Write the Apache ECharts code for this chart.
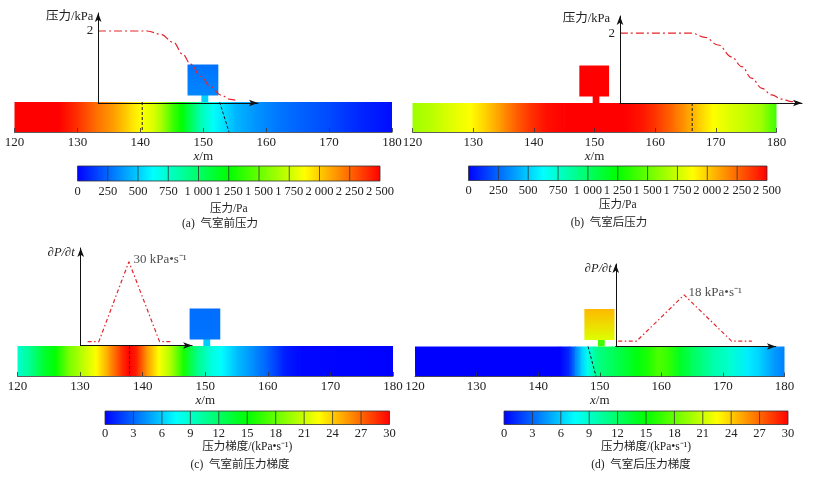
<!DOCTYPE html>
<html><head><meta charset="utf-8">
<script src="https://cdn.jsdelivr.net/npm/echarts@6/dist/echarts.min.js"></script>
<style>html,body{margin:0;padding:0;background:#fff}#c{width:821px;height:478px}</style>
</head><body><div id="c"></div>
<script>
// ------------------ DATA ------------------
const stripTicks = [120, 130, 140, 150, 160, 170, 180];
const pressureTicks = [0, 250, 500, 750, 1000, 1250, 1500, 1750, 2000, 2250, 2500];
const gradientTicks = [0, 3, 6, 9, 12, 15, 18, 21, 24, 27, 30];

// colour strip samples: position (m) and value
const stripPosA = [120,127,130,133,136,138.5,140,142,143.5,145,146.5,148,149.5,151.5,153,155,158,162,166,170,175,180];
const stripValA = [2500,2500,2380,2225,2100,1950,1875,1790,1640,1420,1250,1030,820,640,560,450,370,290,230,180,90,30];
const stripPosB = [120,123,126,129.5,132,134.5,137,139.5,142,145,155,158,160.5,163,165,167,169.5,172,175,177.5,180];
const stripValB = [1640,1700,1790,1875,1990,2125,2265,2380,2460,2500,2500,2440,2350,2230,2125,2010,1875,1800,1720,1640,1400];
const stripPosC = [120,122,124,126,128,130,132.5,134.5,136.5,137.8,139,140.5,142.5,144.5,146.5,148.5,150.5,152.5,155,157.5,160,162.5,165,180];
const stripValC = [8.9,10.8,13.4,15,18.3,20.2,22.5,25.3,28.4,30,29,25.8,22.5,20,15.6,11.3,8.9,7.5,5.6,4.2,2.8,0.9,0.2,0];
const stripPosD = [120,143.5,145,146,147,148,149,150,152,154,156,158,159.5,161,163,165,168,171,174,176,178,180];
const stripValD = [0,0,1.3,3.75,6.1,8,10.2,11.3,12.3,13.4,14.6,16,17.3,16.6,14,12.3,10.2,8.9,7,6.1,4.7,3.75];

// pressure / gradient curves [x (m), value]
const curveA = [[133.3,2],[141.1,2],[143.2,1.91],[145.3,1.68],[146.7,1.36],[148.0,1.08],[149.6,0.74],[151.2,0.45],[152.8,0.22],[154.3,0.1],[155.1,0.08]];
const curveB = [[154.2,2],[166.0,2],[168.2,1.88],[170.4,1.66],[172.6,1.32],[174.3,1.04],[175.9,0.71],[177.6,0.42],[179.2,0.23],[180.9,0.11],[182.5,0.04],[183.6,0.01]];
const curveC = [[131.2,1.4],[133.0,1.4],[137.8,30],[142.7,1.4],[144.6,1.4]];
const curveD = [[153.0,1.9],[156.0,1.9],[163.7,18],[171.4,1.9],[174.7,1.9]];
const peakLabelC = '30 kPa\u2022s\u207B\u00B9';
const peakLabelD = '18 kPa\u2022s\u207B\u00B9';

// air chamber span (m) and its values [top, bottom], neck value
const chamberX = [147.5, 152.4];
const neckX = [149.7, 150.8];
const chamberValA = [280, 330], neckValA = 520;
const chamberValB = [2500, 2500], neckValB = 2500;
const chamberValC = [3.2, 3.4], neckValC = 6;
const chamberValD = [24.6, 21.5], neckValD = 17;

// dashed wave-front markers [x at top, x at bottom]
const dashA = [[140.3,140.3],[152.6,154.1]];
const dashB = [[166.1,166.1]];
const dashC = [[137.9,137.9]];
const dashD = [[148.1,149.4]];

// ------------------ STYLE / LAYOUT ------------------
const FONT = '"Liberation Serif","Times New Roman","Noto Sans CJK SC",serif';
const TXT = '#222';
const STOPS = ['#0000ff','#00ffff','#00ff00','#ffff00','#ff0000'];
function hex2rgb(h){return [parseInt(h.slice(1,3),16),parseInt(h.slice(3,5),16),parseInt(h.slice(5,7),16)];}
function cmap(t){
  t = Math.max(0, Math.min(1, t));
  const s = t*4, i = Math.min(3, Math.floor(s)), f = s - i;
  const a = hex2rgb(STOPS[i]), b = hex2rgb(STOPS[i+1]);
  return 'rgb(' + a.map((c,k)=>Math.round(c+(b[k]-c)*f)).join(',') + ')';
}
function fmtK(v){ return v >= 1000 ? Math.floor(v/1000) + ' ' + String(v%1000).padStart(3,'0') : String(v); }

const panels = [
  {pos:stripPosA, val:stripValA, curve:curveA, smooth:true, chamber:chamberValA, neck:neckValA, dash:dashA,
   vmax:2500, ticks:pressureTicks, step:250, yName:'压力/kPa', yLabel:2, peak:null,
   strip:{l:14.5,r:392,t:102,h:30}, cv:{x0:133.3,x1:158.7,t:13,b:103,ymax:2.5,gap:-4,pad:5},
   cb:{l:77.5,r:380,t:166,h:15,m:4,gap:22}, cbName:'压力/Pa', cap:'(a)  气室前压力', capX:220, capY:224},
  {pos:stripPosB, val:stripValB, curve:curveB, smooth:true, chamber:chamberValB, neck:neckValB, dash:dashB,
   vmax:2500, ticks:pressureTicks, step:250, yName:'压力/kPa', yLabel:2, peak:null,
   strip:{l:412.5,r:776.5,t:103,h:29}, cv:{x0:154.2,x1:184.2,t:16,b:103,ymax:2.49,gap:-3,pad:10},
   cb:{l:468.5,r:767,t:166,h:14.5,m:4,gap:19}, cbName:'压力/Pa', cap:'(b)  气室后压力', capX:609, capY:223},
  {pos:stripPosC, val:stripValC, curve:curveC, smooth:false, chamber:chamberValC, neck:neckValC, dash:dashC,
   vmax:30, ticks:gradientTicks, step:3, yName:'{d|∂}{i|P}{d|/∂}{i|t}', yLabel:null, peak:peakLabelC,
   strip:{l:17.5,r:393,t:346,h:30}, cv:{x0:130.1,x1:147.9,t:248,b:345.5,ymax:34.9,gap:-5,pad:6},
   cb:{l:105,r:389.5,t:411,h:13.5,m:3,gap:16}, cbName:'压力梯度/(kPa\u2022s\u207B\u00B9)', cap:'(c)  气室前压力梯度', capX:240, capY:465},
  {pos:stripPosD, val:stripValD, curve:curveD, smooth:false, chamber:chamberValD, neck:neckValD, dash:dashD,
   vmax:30, ticks:gradientTicks, step:3, yName:'{d|∂}{i|P}{d|/∂}{i|t}', yLabel:null, peak:peakLabelD,
   strip:{l:415,r:784.5,t:346.5,h:30}, cv:{x0:152.6,x1:178.6,t:264,b:346.5,ymax:28.8,gap:-5,pad:4},
   cb:{l:504,r:788,t:411,h:13.5,m:3,gap:16}, cbName:'压力梯度/(kPa\u2022s\u207B\u00B9)', cap:'(d)  气室后压力梯度', capX:641, capY:465}
];

const grids = [], xAxes = [], yAxes = [], series = [], graphics = [];
const arrowLine = {show:true, symbol:['none','arrow'], symbolSize:[5,9], lineStyle:{color:'#111', width:1}};

panels.forEach((p, pi) => {
  const sW = p.strip.r - p.strip.l;
  // ---- strip grid ----
  const gS = grids.length;
  grids.push({left:p.strip.l, top:p.strip.t, width:sW, height:p.strip.h});
  xAxes.push({gridIndex:gS, type:'value', min:stripTicks[0], max:stripTicks[stripTicks.length-1], interval:10, z:5,
    axisLine:{show:true, lineStyle:{color:'#333', width:0.8}},
    axisTick:{show:true, inside:true, length:4, lineStyle:{color:'#333', width:0.8}},
    axisLabel:{fontFamily:FONT, fontSize:13, color:TXT, margin:4},
    splitLine:{show:false},
    name:'{i|x}/m', nameLocation:'middle', nameGap:18,
    nameTextStyle:{fontFamily:FONT, fontSize:13, color:TXT, rich:{i:{fontFamily:FONT, fontSize:13, fontStyle:'italic', color:TXT}}}});
  yAxes.push({gridIndex:gS, type:'value', min:0, max:1, show:false});

  const segs = [];
  for (let k = 0; k < p.pos.length - 1; k++) segs.push([p.pos[k], p.pos[k+1], p.val[k], p.val[k+1]]);
  const nSeg = segs.length;
  series.push({type:'custom', xAxisIndex:gS, yAxisIndex:gS, clip:false, silent:true, z:1,
    data:segs, encode:{x:[0,1]},
    renderItem:(params, api) => {
      const a = api.coord([api.value(0), 1]), b = api.coord([api.value(1), 0]);
      const extra = params.dataIndex < nSeg - 1 ? 0.7 : 0;
      return {type:'rect', shape:{x:a[0], y:a[1], width:b[0]-a[0]+extra, height:b[1]-a[1]},
        style:{fill:new echarts.graphic.LinearGradient(0,0,1,0,[
          {offset:0, color:cmap(api.value(2)/p.vmax)}, {offset:1, color:cmap(api.value(3)/p.vmax)}])}};
    }});
  // chamber
  series.push({type:'custom', xAxisIndex:gS, yAxisIndex:gS, clip:false, silent:true, z:3,
    data:[[chamberX[0], chamberX[1], neckX[0], neckX[1], p.chamber[0], p.chamber[1], p.neck]], encode:{x:[0,1]},
    renderItem:(params, api) => {
      const c0 = api.coord([api.value(0), 1]), c1 = api.coord([api.value(1), 1]);
      const n0 = api.coord([api.value(2), 1]), n1 = api.coord([api.value(3), 1]);
      const y0 = c0[1], neckH = 6.5, boxH = 31;
      return {type:'group', children:[
        {type:'rect', shape:{x:n0[0], y:y0-neckH-0.5, width:n1[0]-n0[0], height:neckH+0.5}, style:{fill:cmap(api.value(6)/p.vmax)}},
        {type:'rect', shape:{x:c0[0], y:y0-neckH-boxH, width:c1[0]-c0[0], height:boxH},
          style:{fill:new echarts.graphic.LinearGradient(0,0,0,1,[
            {offset:0, color:cmap(api.value(4)/p.vmax)}, {offset:1, color:cmap(api.value(5)/p.vmax)}])}}
      ]};
    }});
  // dashed markers
  series.push({type:'custom', xAxisIndex:gS, yAxisIndex:gS, clip:false, silent:true, z:4,
    data:p.dash, encode:{x:[0,1]},
    renderItem:(params, api) => {
      const a = api.coord([api.value(0), 1]), b = api.coord([api.value(1), 0]);
      return {type:'line', shape:{x1:a[0], y1:a[1], x2:b[0], y2:b[1]}, style:{stroke:'#1a1a1a', lineWidth:1, lineDash:[3,2]}};
    }});

  // ---- curve grid ----
  const gC = grids.length;
  const cl = p.strip.l + (p.cv.x0 - 120)/60*sW;
  const cw = (p.cv.x1 - p.cv.x0)/60*sW;
  grids.push({left:cl, top:p.cv.t, width:cw, height:p.cv.b - p.cv.t});
  xAxes.push({gridIndex:gC, type:'value', min:p.cv.x0, max:p.cv.x1, z:6,
    axisLine:arrowLine, axisTick:{show:false}, axisLabel:{show:false}, splitLine:{show:false}});
  yAxes.push({gridIndex:gC, type:'value', min:0, max:p.cv.ymax, interval:p.yLabel || p.cv.ymax, z:6,
    axisLine:arrowLine, axisTick:{show:false}, splitLine:{show:false},
    axisLabel:{show:!!p.yLabel, fontFamily:FONT, fontSize:13, color:TXT, margin:5,
      formatter:v => (p.yLabel && Math.abs(v - p.yLabel) < 1e-9) ? String(v) : ''},
    name:p.yName, nameLocation:'end', nameGap:p.cv.gap,
    nameTextStyle:{fontFamily:FONT, fontSize:12.5, color:TXT, align:'right', verticalAlign:'middle', padding:[0,p.cv.pad,0,0],
      rich:{i:{fontFamily:FONT, fontSize:12.5, fontStyle:'italic', color:TXT}, d:{fontFamily:FONT, fontSize:12.5, fontStyle:'italic', color:TXT}}}});
  series.push({type:'line', xAxisIndex:gC, yAxisIndex:gC, data:p.curve, showSymbol:false, symbol:'none',
    smooth:p.smooth ? 0.4 : false, smoothMonotone:'x', silent:true, z:4,
    lineStyle:{color:'#e3262c', width:1.2, type:p.smooth ? [8,3,2,3] : [4,2.5,1.5,2.5]}});
  if (p.peak) {
    const pk = p.curve.reduce((m, d) => d[1] > m[1] ? d : m, p.curve[0]);
    series.push({type:'scatter', xAxisIndex:gC, yAxisIndex:gC, data:[pk], symbolSize:1, silent:true,
      itemStyle:{color:'rgba(0,0,0,0)'},
      label:{show:true, position:'right', distance:4, offset:[0,-2], formatter:p.peak, fontFamily:FONT, fontSize:13, color:TXT}});
  }

  // ---- colour bar grid ----
  const gB = grids.length;
  grids.push({left:p.cb.l, top:p.cb.t, width:p.cb.r - p.cb.l, height:p.cb.h});
  xAxes.push({gridIndex:gB, type:'value', min:p.ticks[0], max:p.ticks[p.ticks.length-1], interval:p.step,
    axisLine:{show:false}, axisTick:{show:false}, splitLine:{show:false},
    axisLabel:{fontFamily:FONT, fontSize:12.5, color:TXT, margin:p.cb.m, formatter:fmtK},
    name:p.cbName, nameLocation:'middle', nameGap:p.cb.gap,
    nameTextStyle:{fontFamily:FONT, fontSize:11.5, color:TXT}});
  yAxes.push({gridIndex:gB, type:'value', min:0, max:1, show:false});
  series.push({type:'custom', xAxisIndex:gB, yAxisIndex:gB, clip:false, silent:true, z:2,
    data:[[p.ticks[0], p.ticks[p.ticks.length-1]]], encode:{x:[0,1]},
    renderItem:(params, api) => {
      const a = api.coord([api.value(0), 1]), b = api.coord([api.value(1), 0]);
      return {type:'rect', shape:{x:a[0], y:a[1], width:b[0]-a[0], height:b[1]-a[1]},
        style:{stroke:'#333', lineWidth:0.8, fill:new echarts.graphic.LinearGradient(0,0,1,0,
          STOPS.map((c,k)=>({offset:k/(STOPS.length-1), color:c})))}};
    }});
  series.push({type:'custom', xAxisIndex:gB, yAxisIndex:gB, clip:false, silent:true, z:3,
    data:p.ticks.slice(1, -1).map(v => [v]), encode:{x:0},
    renderItem:(params, api) => {
      const a = api.coord([api.value(0), 1]), b = api.coord([api.value(0), 0]);
      return {type:'line', shape:{x1:a[0], y1:a[1], x2:b[0], y2:b[1]}, style:{stroke:'#333', lineWidth:0.8}};
    }});

  graphics.push({type:'text', x:p.capX, y:p.capY,
    style:{text:p.cap, font:'11.5px ' + FONT, fill:TXT, textAlign:'center', textVerticalAlign:'middle'}});
});

const chart = echarts.init(document.getElementById('c'));
chart.setOption({
  animation:false,
  backgroundColor:'#fff',
  grid:grids, xAxis:xAxes, yAxis:yAxes, series:series,
  graphic:graphics
});
</script>
</body></html>
